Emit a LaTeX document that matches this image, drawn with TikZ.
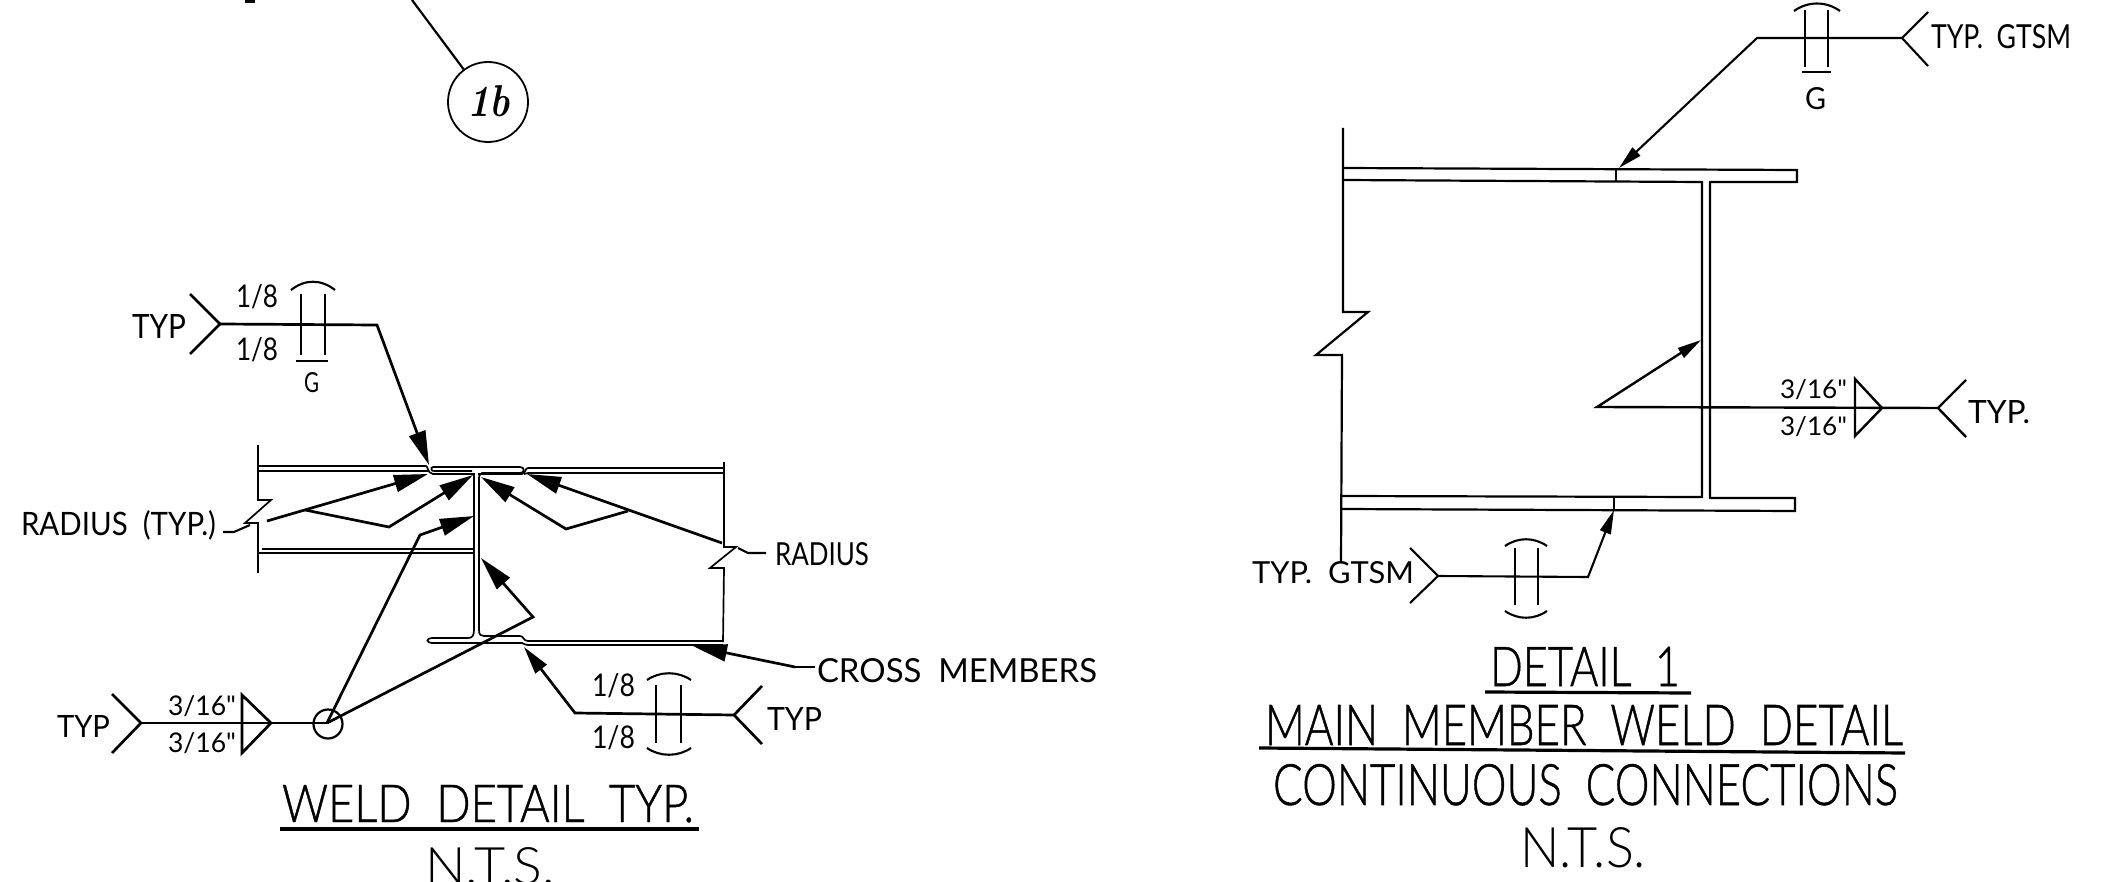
\documentclass[tikz,border=0pt]{standalone}
\usepackage{fontspec}
\usepackage{graphicx}
\newfontfamily\cadlight{Lato Light}
\newfontfamily\cadmid[RawFeature={embolden=0.9}]{Lato Light}
\newfontfamily\cadreg{Lato}
\usetikzlibrary{arrows.meta}
\newcommand{\cadtext}[6]{\node[anchor=base west,inner sep=0pt,outer sep=0pt,font=\cadreg] (#1) at (#2,#3) {\resizebox{\dimexpr #4pt/2\relax}{\dimexpr #5pt/2\relax}{#6}};}
\newcommand{\cadtitle}[6]{\node[anchor=base west,inner sep=0pt,outer sep=0pt,font=\cadmid] (#1) at (#2,#3) {\resizebox{\dimexpr #4pt/2\relax}{\dimexpr #5pt/2\relax}{#6}};}
\newcommand{\cadnts}[6]{\node[anchor=base west,inner sep=0pt,outer sep=0pt,font=\cadlight] (#1) at (#2,#3) {\resizebox{\dimexpr #4pt/2\relax}{\dimexpr #5pt/2\relax}{#6}};}
\tikzset{
  x=0.5pt,y=-0.5pt,
  lead/.style={line width=1.35pt,line join=miter,black},
  leadthin/.style={line width=1.05pt,black},
  beam/.style={line width=0.85pt,black},
  beamr/.style={line width=1.1pt,black},
  headl/.style={-{Triangle[length=17pt,width=8.5pt]}},
  headr/.style={-{Triangle[length=12pt,width=5.6pt]}},
  rule/.style={line width=1.6pt,black},
}
\begin{document}
\begin{tikzpicture}
\useasboundingbox (0,0) rectangle (2109,882);
\clip (0,0) rectangle (2109,882);
% top fragment
\fill (245,0) rectangle (255,3);
\node[circle,draw,line width=0.9pt,minimum size=40pt,inner sep=0pt] (refb) at (488,102) {};
\node[anchor=base west,inner sep=0pt] (refbt) at (467,117) {\resizebox{21.5pt}{15.5pt}{\textbf{\textit{1b}}}};
\coordinate (reft) at (412,0);
\draw[line width=1.1pt] (reft) -- (refb);
% ---- left detail: member
\draw[beam] (258,445) -- (258,500) -- (271,500) -- (245,523) -- (258,523) -- (258,573);
\draw[beam] (724,462) -- (724,547) -- (736,547) -- (710,568) -- (724,568) -- (723,642);
\draw[beam] (258,466) -- (426,466) .. controls (428,466) and (427,473) .. (433,474) -- (474,474) -- (474,630) .. controls (474,636) and (472,638) .. (468,638) -- (432,638) .. controls (426,638) and (426,643) .. (432,643) -- (522,643) .. controls (525,643) and (525,646) .. (528,645) -- (723,645);
\draw[beam] (258,471) -- (428,471);
\draw[beam] (433,467) -- (520,467) .. controls (525,467) and (525,473) .. (520,473) -- (482,473) .. controls (479,474) and (479,476) .. (479,480) -- (479,630) .. controls (479,635) and (481,636) .. (484,636) -- (520,636) .. controls (524,636) and (523,641) .. (528,641) -- (723,641);
\draw[beam] (433,467) .. controls (430,467) and (431,472) .. (435,471) -- (472,471);
\draw[beam] (528,468) -- (724,468);
\draw[beam] (524,474) .. controls (526,474) and (526,473) .. (528,473) -- (724,473);
\draw[beam] (528,468) .. controls (525,468) and (526,473) .. (522,474) -- (478,474);
\draw[beam] (262,549) -- (474,549);
\draw[beam] (258,553) -- (474,553);
% radius leaders
\draw[leadthin] (223,532) -- (234,532) -- (250,525);
\draw[leadthin] (738,548) -- (748,553) -- (766,553);
\draw[lead,headl] (267,521) -- (428,474);
\draw[lead,headl] (305,510) -- (389,527) -- (473,475);
\draw[lead,headl] (722,543) -- (527,474);
\draw[lead,headl] (628,511) -- (566,529) -- (481,477);
% weld callouts left
\coordinate (vtx) at (327,723);
\node[circle,draw,line width=1.1pt,minimum size=14.5pt,inner sep=0pt] (wcirc) at (328,724) {};
\draw[lead,headl] (vtx) -- (420,535) -- (474,516);
\draw[lead,headl] (vtx) -- (533,617) -- (481,558);
\draw[lead] (141,723) -- (vtx);
\draw[lead] (112,694) -- (141,723) -- (112,753);
\draw[lead,line join=miter] (242,695) -- (271,723) -- (242,753) -- cycle;
\draw[lead,headl] (795,667) -- (693,646);
\draw[lead] (795,667) -- (815,667);
% top-left weld symbol
\draw[lead] (190,294) -- (220,324) -- (190,354);
\draw[lead,headl] (220,324) -- (377,325) -- (429,465);
\draw[leadthin] (301,294) -- (301,355) (325,294) -- (325,355);
\draw[leadthin] (291,290) .. controls (305,279) and (321,279) .. (335,290);
\draw[leadthin] (296,361) -- (328,361);
% bottom weld symbol
\draw[lead,-{Triangle[length=14pt,width=7pt]}] (734,715) -- (575,713) -- (524,647);
\draw[lead] (762,686) -- (734,715) -- (762,744);
\draw[leadthin] (656,685) -- (656,743) (681,685) -- (681,743);
\draw[leadthin] (647,680) .. controls (660,671) and (678,671) .. (691,680);
\draw[leadthin] (647,748) .. controls (660,757) and (678,757) .. (691,748);
% left labels
\cadtext{ta}{132}{339}{54}{24}{TYP}
\cadtext{tb}{236}{307}{42}{23}{1/8}
\cadtext{tc}{236}{360}{42}{23}{1/8}
\cadtext{td}{304}{392}{15}{20}{G}
\cadtext{te}{21}{535}{195}{25}{RADIUS\ \ (TYP.)}
\cadtext{tf}{775}{565}{94}{23}{RADIUS}
\cadtext{tg}{817}{682}{280}{24}{CROSS\ \ MEMBERS}
\cadtext{th}{168}{715}{68}{20}{3/16"}
\cadtext{ti}{168}{752}{68}{20}{3/16"}
\cadtext{tj}{57}{737}{53}{22}{TYP}
\cadtext{tk}{592}{696}{43}{23}{1/8}
\cadtext{tl}{592}{748}{43}{23}{1/8}
\cadtext{tm}{767}{730}{55}{23}{TYP}
\cadtitle{tn}{282}{822}{412}{37}{WELD\ \ DETAIL\ \ TYP.}
\cadnts{to}{425}{884}{130}{37}{N.T.S.}
\draw[rule] (280,829) -- (699,829);
% ---- right detail: member
\draw[beamr] (1343,128) -- (1343,312) -- (1368,312) -- (1316,355) -- (1342,355) -- (1341,563);
\draw[beamr] (1343,168) -- (1797,170) -- (1797,182) -- (1710,182) -- (1710,498) -- (1795,498) -- (1795,511) -- (1342,509);
\draw[beamr] (1343,180) -- (1702,182) -- (1702,497) -- (1342,496);
\draw[beamr] (1616,169) -- (1616,182);
\draw[beamr] (1614,497) -- (1614,510);
% upper right symbol
\draw[leadthin,headr] (1902,38) -- (1757,38) -- (1619,168);
\draw[leadthin] (1928,12) -- (1902,38) -- (1928,66);
\draw[leadthin] (1805,10) -- (1805,67) (1828,10) -- (1828,67);
\draw[leadthin] (1794,11) .. controls (1808,1) and (1826,1) .. (1840,11);
\draw[leadthin] (1802,72) -- (1831,72);
% mid right symbol
\draw[lead,headr,line width=1.2pt] (1938,408) -- (1597,407) -- (1701,340);
\draw[lead,line width=1.2pt] (1966,380) -- (1938,408) -- (1966,437);
\draw[lead,line width=1.2pt] (1855,379) -- (1882,408) -- (1855,436) -- cycle;
% lower right symbol
\draw[leadthin,headr] (1438,576) -- (1588,577) -- (1614,510);
\draw[leadthin] (1410,548) -- (1438,576) -- (1410,603);
\draw[leadthin] (1515,548) -- (1515,605) (1538,548) -- (1538,605);
\draw[leadthin] (1505,546) .. controls (1518,537) and (1534,537) .. (1547,546);
\draw[leadthin] (1505,611) .. controls (1518,620) and (1534,620) .. (1547,611);
% right labels
\cadtext{ua}{1931}{49}{140}{24}{TYP.\ \ GTSM}
\cadtext{ub}{1805}{110}{21}{22}{G}
\cadtext{uc}{1252}{583}{162}{22}{TYP.\ \ GTSM}
\cadtext{ud}{1780}{398}{67}{19}{3/16"}
\cadtext{ue}{1780}{435}{67}{19}{3/16"}
\cadtext{uf}{1968}{423}{62}{23}{TYP.}
\cadtitle{ug}{1490}{686}{190}{39}{DETAIL\ \ 1}
\cadtitle{uh}{1265}{745}{638}{40}{MAIN\ \ MEMBER\ \ WELD\ \ DETAIL}
\cadtitle{ui}{1273}{805}{625}{41}{CONTINUOUS\ \ CONNECTIONS}
\cadnts{uj}{1520}{867}{126}{40}{N.T.S.}
\draw[rule] (1485,692) -- (1691,693);
\draw[rule] (1259,748) -- (1905,753);
\end{tikzpicture}
\end{document}
